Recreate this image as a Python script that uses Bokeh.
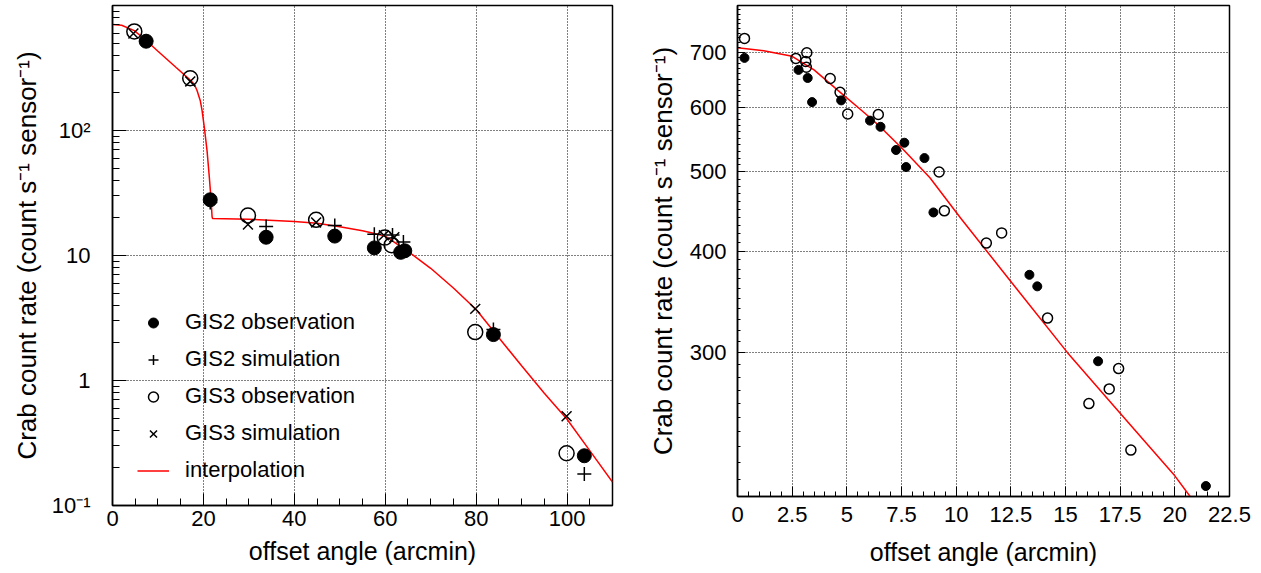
from bokeh.plotting import figure
from bokeh.layouts import row
from bokeh.models import (Range1d, FixedTicker, SingleIntervalTicker, Legend, LegendItem,
                          CustomJSTickFormatter)
from bokeh.embed import file_html
from bokeh.resources import INLINE

# ---------------- data: left panel (wide offset range) ----------------
gis2_obs_x = [7.4, 21.5, 33.8, 48.9, 57.6, 63.4, 64.3, 83.8, 103.8]
gis2_obs_y = [518, 27.9, 14.0, 14.3, 11.5, 10.6, 10.9, 2.33, 0.25]

gis2_sim_x = [7.4, 21.5, 33.8, 48.9, 57.6, 61.6, 64.0, 83.8, 103.8]
gis2_sim_y = [520, 26.5, 17.1, 17.4, 14.8, 14.6, 12.8, 2.56, 0.179]

gis3_obs_x = [4.8, 17.1, 29.8, 44.8, 59.9, 61.4, 79.8, 99.9]
gis3_obs_y = [620, 262, 20.9, 19.3, 13.9, 12.1, 2.44, 0.262]

gis3_sim_x = [4.6, 17.1, 29.8, 44.8, 59.7, 62.0, 79.8, 99.9]
gis3_sim_y = [597, 247, 17.7, 18.4, 14.5, 14.0, 3.74, 0.518]

interp_x = [0, 2, 4.8, 7.4, 10, 14, 17, 18, 18.6, 19.3, 19.7, 20.2, 20.8, 21.3, 21.7,
            21.9, 22, 30, 40, 45, 50, 55, 60, 65, 70, 75, 80, 85, 90, 95, 100, 105, 110]
interp_y = [705, 695, 630, 525, 431, 319, 255, 234, 209, 174, 145, 106, 69, 42.4, 27.5,
            20.5, 19.8, 19.5, 18.7, 18.1, 17.0, 15.8, 14.3, 10.8, 7.9, 5.5, 3.7, 2.2,
            1.31, 0.79, 0.49, 0.275, 0.154]

left_y_ticks = [0.1, 1, 10, 100, 1000]
left_y_labels = ["10⁻¹", "1", "10", "10²", ""]

# ---------------- data: right panel (small offsets) ----------------
r_filled_x = [0.32, 2.79, 3.21, 3.41, 4.74, 6.06, 6.54, 7.25, 7.63, 7.71, 8.55, 8.96,
              13.35, 13.71, 16.49, 21.42]
r_filled_y = [690, 667, 652, 609, 612, 578, 568, 532, 543, 507, 520, 446,
              374, 362, 293, 206]
r_open_x = [0.32, 2.67, 3.17, 3.12, 3.15, 4.24, 4.69, 5.04, 6.44, 9.22, 9.46, 11.38,
            12.08, 14.18, 16.07, 17.0, 17.43, 17.99]
r_open_y = [729, 689, 700, 683, 672, 651, 626, 589, 588, 500, 448, 409,
            421, 331, 260, 271, 287, 228]
r_line_x = [0, 1.2, 2.5, 3.5, 4.7, 5.8, 6.5, 7.6, 8.8, 10.2, 12.5, 15.1, 17.5, 20, 20.7]
r_line_y = [710, 704, 693, 667, 626, 591, 569, 532, 492, 439, 367, 300, 253, 212, 200]

right_y_ticks = [300, 400, 500, 600, 700]

FONT = "Liberation Sans"
YTITLE = "Crab count rate (count s⁻¹ sensor⁻¹)"
XTITLE = "offset angle (arcmin)"


def style(p):
    p.outline_line_color = "black"
    p.outline_line_width = 1.5
    p.background_fill_color = "white"
    p.border_fill_color = "white"
    for ax in (p.xaxis[0], p.yaxis[0]):
        ax.axis_line_width = 1.5
        ax.major_tick_out = 0
        ax.minor_tick_out = 0
        ax.major_tick_line_color = "black"
        ax.minor_tick_line_color = "black"
        ax.major_label_text_font = FONT
        ax.major_label_text_font_size = "22px"
        ax.major_label_text_color = "black"
        ax.axis_label_text_font = FONT
        ax.axis_label_text_font_style = "normal"
        ax.axis_label_text_font_size = "25px"
        ax.axis_label_text_color = "black"
    p.yaxis[0].axis_label_text_font_size = "26px"
    for g in (p.xgrid[0], p.ygrid[0]):
        g.grid_line_color = "black"
        g.grid_line_dash = "1 2"
        g.grid_line_width = 1


# ---------------- left figure ----------------
p1 = figure(frame_width=500, frame_height=500, x_range=Range1d(0, 110),
            y_range=Range1d(0.1, 1000), y_axis_type="log",
            output_backend="svg", toolbar_location=None,
            min_border_left=112, min_border_right=10, min_border_top=5,
            min_border_bottom=65)
style(p1)
p1.xaxis[0].ticker = SingleIntervalTicker(interval=20, num_minor_ticks=4)
p1.xaxis[0].major_tick_in = 12
p1.xaxis[0].minor_tick_in = 7
p1.xaxis[0].major_label_standoff = 5
p1.xaxis[0].axis_label = XTITLE
p1.xaxis[0].axis_label_standoff = 8

minor_log = [m * 10.0 ** e for e in range(-1, 3) for m in range(2, 10)]
p1.yaxis[0].ticker = FixedTicker(ticks=left_y_ticks, minor_ticks=minor_log)
p1.yaxis[0].major_label_overrides = dict(zip(left_y_ticks, left_y_labels))
p1.yaxis[0].major_tick_in = 14
p1.yaxis[0].minor_tick_in = 7
p1.yaxis[0].major_label_standoff = 22
p1.yaxis[0].axis_label = YTITLE
p1.yaxis[0].axis_label_standoff = 7

r_line = p1.line(interp_x, interp_y, line_color="red", line_width=1.5)
r_g2o = p1.scatter(gis2_obs_x, gis2_obs_y, marker="circle", size=14,
                   fill_color="black", line_color="black")
r_g2s = p1.scatter(gis2_sim_x, gis2_sim_y, marker="cross", size=14,
                   line_color="black", line_width=1.5)
r_g3o = p1.scatter(gis3_obs_x, gis3_obs_y, marker="circle", size=15,
                   fill_color=None, line_color="black", line_width=1.5)
r_g3s = p1.scatter(gis3_sim_x, gis3_sim_y, marker="x", size=14,
                   line_color="black", line_width=1.5)

legend = Legend(items=[
    LegendItem(label="GIS2 observation", renderers=[r_g2o]),
    LegendItem(label="GIS2 simulation", renderers=[r_g2s]),
    LegendItem(label="GIS3 observation", renderers=[r_g3o]),
    LegendItem(label="GIS3 simulation", renderers=[r_g3s]),
    LegendItem(label="interpolation", renderers=[r_line]),
], location=(15, 10), glyph_width=32, glyph_height=25, label_height=30,
    spacing=7, padding=10, label_standoff=16,
    label_text_font=FONT, label_text_font_size="22px", label_text_color="black",
    background_fill_alpha=0, border_line_alpha=0)
p1.add_layout(legend)

# ---------------- right figure ----------------
p2 = figure(frame_width=492, frame_height=491, x_range=Range1d(0, 22.5),
            y_range=Range1d(200, 800), y_axis_type="log",
            output_backend="svg", toolbar_location=None,
            min_border_left=115, min_border_right=22, min_border_top=5,
            min_border_bottom=74)
style(p2)
p2.xaxis[0].ticker = SingleIntervalTicker(interval=2.5, num_minor_ticks=5)
p2.xaxis[0].formatter = CustomJSTickFormatter(code="return String(Math.round(tick*10)/10);")
p2.xaxis[0].major_tick_in = 10
p2.xaxis[0].minor_tick_in = 5
p2.xaxis[0].major_label_standoff = 10
p2.xaxis[0].axis_label = XTITLE
p2.xaxis[0].axis_label_standoff = 13

p2.yaxis[0].ticker = FixedTicker(ticks=right_y_ticks, minor_ticks=list(range(200, 801, 10)))
p2.yaxis[0].major_tick_in = 8
p2.yaxis[0].minor_tick_in = 3
p2.yaxis[0].major_label_standoff = 11
p2.yaxis[0].axis_label = YTITLE
p2.yaxis[0].axis_label_standoff = 9

p2.line(r_line_x, r_line_y, line_color="red", line_width=1.5)
p2.scatter(r_filled_x, r_filled_y, marker="circle", size=9,
           fill_color="black", line_color="black")
p2.scatter(r_open_x, r_open_y, marker="circle", size=10,
           fill_color=None, line_color="black", line_width=1.5)

layout = row(p1, p2)
open("out.html", "w").write(file_html(layout, INLINE))
